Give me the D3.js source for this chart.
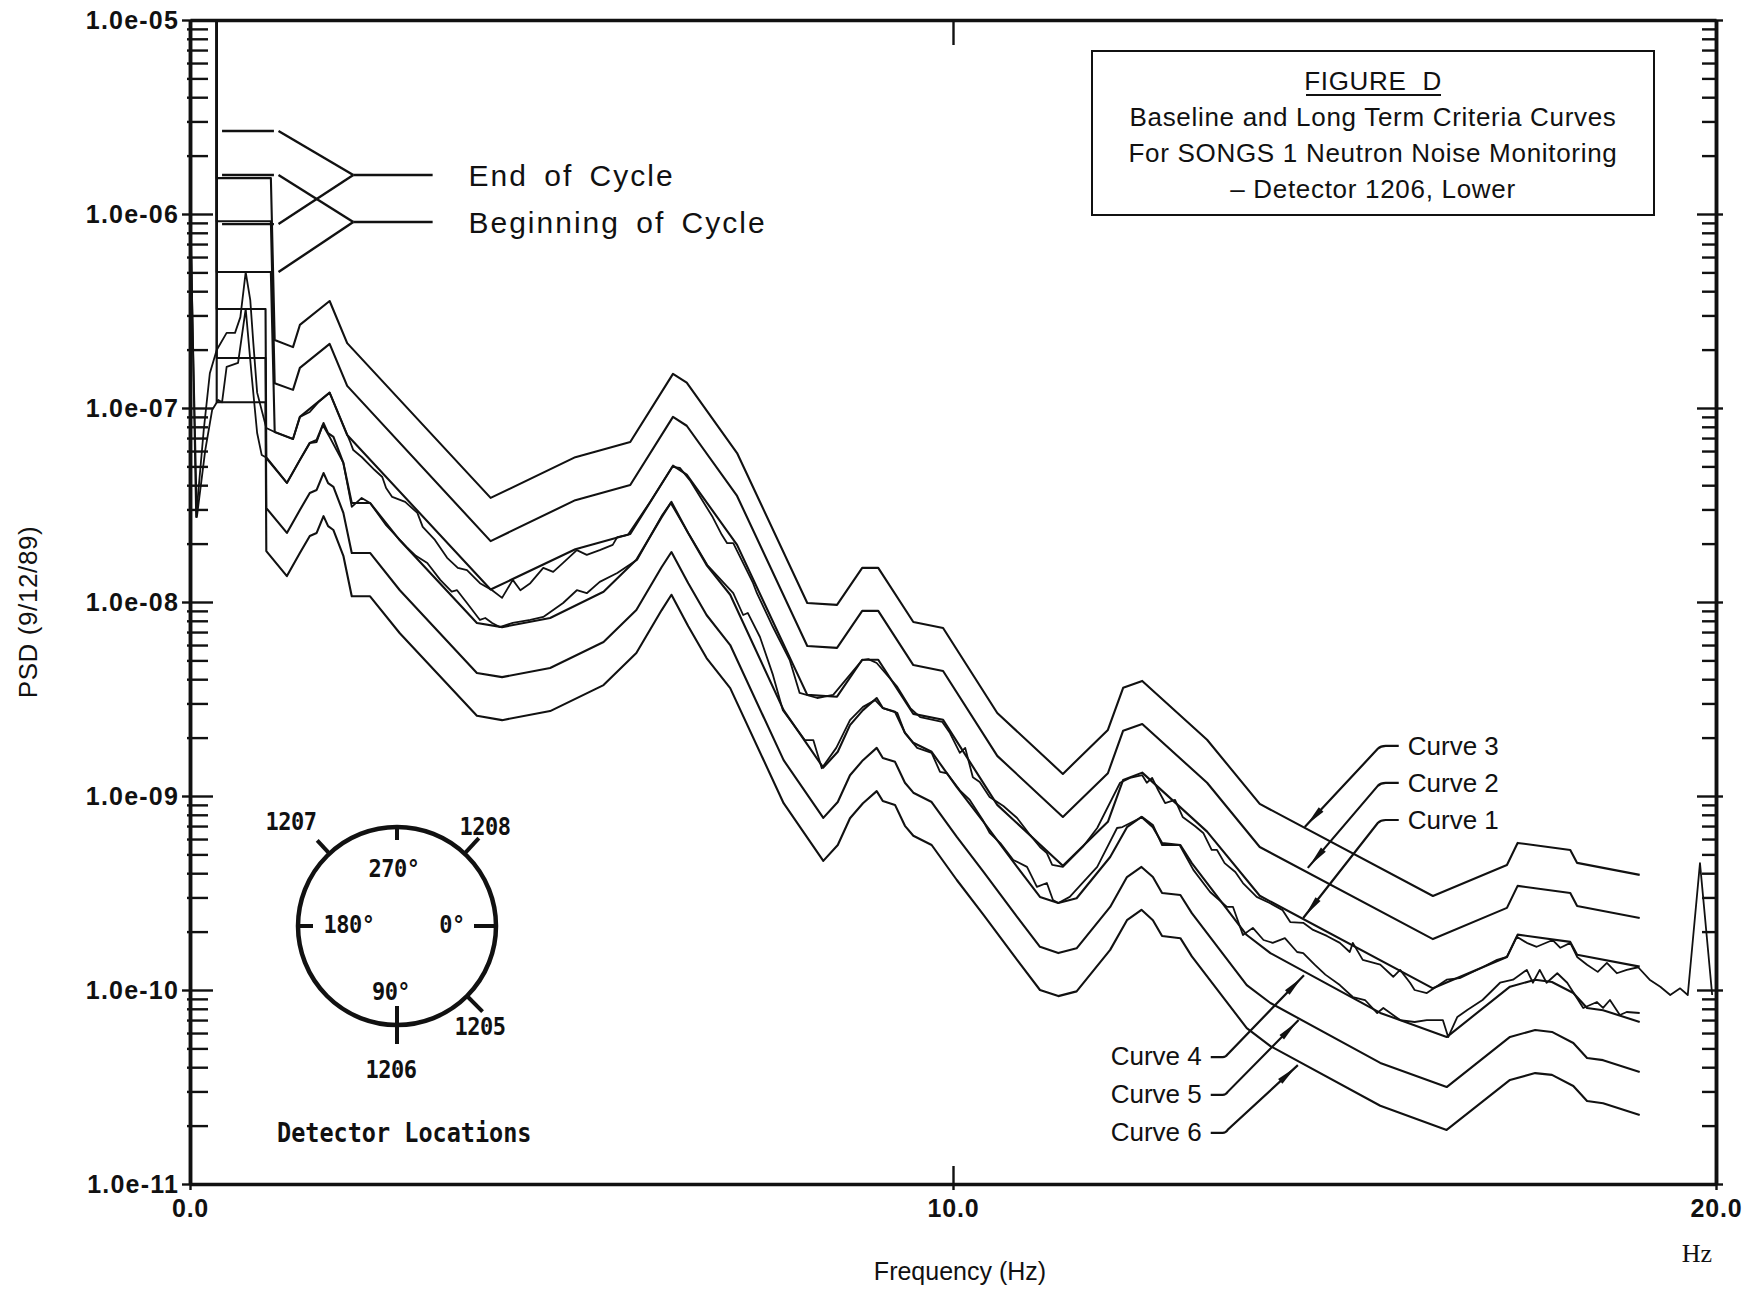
<!DOCTYPE html>
<html><head><meta charset="utf-8">
<script src="https://cdn.jsdelivr.net/npm/d3@7"></script>
<style>
html,body{margin:0;padding:0;background:#fff;}
svg{display:block;}
</style></head>
<body>
<svg id="chart" width="1750" height="1297"></svg>
<script>
// ---------------- DATA ----------------
// Criteria curves 1-3 (upper family) share frequency vertices (Hz); first value is off-scale (clipped at top)
const freqUpper = [0.35,0.35,1.06,1.11,1.35,1.44,1.83,2.06,3.94,5.05,5.77,6.33,6.51,7.17,8.09,8.48,8.81,9.02,9.48,9.87,10.58,11.44,12.03,12.23,12.48,13.33,14.02,16.29,17.26,17.40,18.09,18.18,19.00];
const curve3 = [1e-4,1.53e-6,1.53e-6,2.24e-7,2.06e-7,2.68e-7,3.56e-7,2.16e-7,3.44e-8,5.58e-8,6.68e-8,1.50e-7,1.35e-7,5.86e-8,9.89e-9,9.66e-9,1.50e-8,1.50e-8,7.89e-9,7.35e-9,2.68e-9,1.30e-9,2.19e-9,3.61e-9,3.92e-9,1.95e-9,9.10e-10,3.05e-10,4.41e-10,5.73e-10,5.27e-10,4.52e-10,3.92e-10];
const curve2 = [1e-4,9.18e-7,9.18e-7,1.34e-7,1.24e-7,1.61e-7,2.14e-7,1.30e-7,2.06e-8,3.35e-8,4.01e-8,9.00e-8,8.10e-8,3.52e-8,5.93e-9,5.80e-9,9.00e-9,9.00e-9,4.73e-9,4.41e-9,1.61e-9,7.80e-10,1.31e-9,2.17e-9,2.35e-9,1.17e-9,5.46e-10,1.83e-10,2.65e-10,3.44e-10,3.16e-10,2.71e-10,2.35e-10];
const curve1 = [1e-4,5.02e-7,5.02e-7,7.53e-8,6.92e-8,9.00e-8,1.20e-7,7.26e-8,1.16e-8,1.87e-8,2.24e-8,5.04e-8,4.54e-8,1.97e-8,3.32e-9,3.25e-9,5.04e-9,5.04e-9,2.65e-9,2.47e-9,9.00e-10,4.37e-10,7.36e-10,1.21e-9,1.32e-9,6.55e-10,3.06e-10,1.02e-10,1.48e-10,1.93e-10,1.77e-10,1.52e-10,1.32e-10];

// Criteria curves 4-6 (lower family)
const freqLower = [0.35,0.35,0.99,1.00,1.27,1.44,1.57,1.66,1.75,1.81,1.88,2.01,2.12,2.36,2.75,3.76,4.09,4.72,5.42,5.85,6.18,6.31,6.53,6.77,7.08,7.78,8.30,8.49,8.65,8.82,9.00,9.08,9.24,9.37,9.48,9.72,10.05,10.40,10.84,11.14,11.38,11.62,12.06,12.28,12.47,12.62,12.74,12.98,13.13,13.85,14.16,15.60,16.47,17.30,17.63,17.85,18.13,18.31,18.52,19.00];
const curve4 = [1e-4,3.24e-7,3.24e-7,5.52e-8,4.11e-8,5.39e-8,6.61e-8,6.84e-8,8.36e-8,7.42e-8,7.10e-8,5.21e-8,3.24e-8,3.24e-8,2.08e-8,7.80e-9,7.42e-9,8.27e-9,1.13e-8,1.65e-8,2.73e-8,3.28e-8,2.26e-8,1.55e-8,1.09e-8,2.77e-9,1.40e-9,1.69e-9,2.32e-9,2.77e-9,3.20e-9,2.84e-9,2.72e-9,2.12e-9,1.88e-9,1.69e-9,1.11e-9,7.35e-10,4.31e-10,3.02e-10,2.81e-10,2.97e-10,4.85e-10,6.91e-10,7.80e-10,6.91e-10,5.72e-10,5.59e-10,4.51e-10,1.92e-10,1.55e-10,7.62e-11,5.72e-11,1.04e-10,1.13e-10,1.10e-10,9.65e-11,8.07e-11,7.87e-11,6.84e-11];
const curve5 = [1e-4,1.81e-7,1.81e-7,3.05e-8,2.27e-8,2.98e-8,3.65e-8,3.78e-8,4.62e-8,4.10e-8,3.92e-8,2.88e-8,1.79e-8,1.79e-8,1.15e-8,4.31e-9,4.10e-9,4.57e-9,6.22e-9,9.10e-9,1.51e-8,1.81e-8,1.25e-8,8.57e-9,6.00e-9,1.53e-9,7.71e-10,9.31e-10,1.28e-9,1.53e-9,1.77e-9,1.57e-9,1.50e-9,1.17e-9,1.04e-9,9.31e-10,6.15e-10,4.06e-10,2.38e-10,1.67e-10,1.55e-10,1.64e-10,2.68e-10,3.82e-10,4.31e-10,3.82e-10,3.16e-10,3.09e-10,2.49e-10,1.06e-10,8.57e-11,4.21e-11,3.16e-11,5.73e-11,6.22e-11,6.08e-11,5.33e-11,4.46e-11,4.35e-11,3.78e-11];
const curve6 = [1e-4,1.07e-7,1.07e-7,1.83e-8,1.36e-8,1.79e-8,2.19e-8,2.27e-8,2.77e-8,2.46e-8,2.35e-8,1.73e-8,1.07e-8,1.07e-8,6.90e-9,2.59e-9,2.46e-9,2.74e-9,3.73e-9,5.46e-9,9.06e-9,1.09e-8,7.50e-9,5.14e-9,3.60e-9,9.18e-10,4.63e-10,5.59e-10,7.68e-10,9.18e-10,1.06e-9,9.42e-10,9.00e-10,7.02e-10,6.24e-10,5.59e-10,3.69e-10,2.44e-10,1.43e-10,1.00e-10,9.30e-11,9.84e-11,1.61e-10,2.29e-10,2.59e-10,2.29e-10,1.90e-10,1.85e-10,1.49e-10,6.36e-11,5.14e-11,2.53e-11,1.90e-11,3.44e-11,3.73e-11,3.65e-11,3.20e-11,2.68e-11,2.61e-11,2.27e-11];

// Measured PSD (9/12/89), trace near Curve 1
const measAFreq = [0.01,0.08,0.18,0.26,0.35,0.48,0.59,0.66,0.73,0.79,0.83,0.88,1.00,1.11,1.35,1.44,1.57,1.68,1.83,1.98,2.10,2.14,2.25,2.42,2.52,2.57,2.65,2.82,2.98,3.05,3.21,3.37,3.51,3.63,3.80,3.96,4.09,4.23,4.33,4.46,4.63,4.76,4.89,5.07,5.20,5.37,5.54,5.60,5.74,6.03,6.32,6.42,6.55,6.85,6.97,7.04,7.12,7.38,7.43,7.64,7.86,7.99,8.22,8.43,8.81,8.89,9.00,9.27,9.44,9.57,9.86,9.96,10.09,10.16,10.26,10.35,10.48,10.66,10.84,11.01,11.14,11.23,11.30,11.44,11.70,11.89,12.19,12.32,12.48,12.54,12.61,12.69,12.78,12.91,13.01,13.17,13.28,13.39,13.46,13.56,13.70,13.80,13.98,14.15,14.32,14.42,14.59,14.72,14.90,15.07,15.20,15.24,15.37,15.60,15.77,15.86,15.99,16.05,16.21,16.47,16.64,16.94,17.13,17.26,17.39,17.52,17.65,17.86,17.96,18.09,18.18,18.31,18.45,18.57,18.70,18.83,18.98,19.13,19.27,19.40,19.53,19.63,19.79,19.95];
const measAValues = [8.78e-7,2.74e-8,7.70e-8,1.51e-7,1.99e-7,2.44e-7,2.44e-7,2.94e-7,5.02e-7,3.60e-7,2.16e-7,1.20e-7,7.89e-8,7.52e-8,6.92e-8,8.99e-8,9.54e-8,1.07e-7,1.20e-7,8.67e-8,6.68e-8,6.07e-8,5.59e-8,4.79e-8,4.41e-8,3.87e-8,3.48e-8,3.28e-8,2.88e-8,2.44e-8,2.09e-8,1.69e-8,1.50e-8,1.46e-8,1.25e-8,1.15e-8,1.05e-8,1.30e-8,1.15e-8,1.25e-8,1.50e-8,1.43e-8,1.59e-8,1.85e-8,1.75e-8,1.85e-8,1.97e-8,2.16e-8,2.22e-8,3.28e-8,4.97e-8,4.91e-8,4.25e-8,2.74e-8,2.22e-8,2.01e-8,2.01e-8,1.25e-8,1.11e-8,7.43e-9,5.02e-9,3.40e-9,3.20e-9,3.32e-9,5.02e-9,5.08e-9,4.85e-9,3.65e-9,2.84e-9,2.55e-9,2.41e-9,2.11e-9,1.67e-9,1.77e-9,1.25e-9,1.18e-9,9.88e-10,8.88e-10,7.70e-10,6.30e-10,5.46e-10,5.08e-10,4.41e-10,4.31e-10,5.46e-10,6.84e-10,1.17e-9,1.24e-9,1.28e-9,1.17e-9,1.24e-9,1.07e-9,9.20e-10,9.54e-10,7.80e-10,7.00e-10,6.45e-10,5.27e-10,5.27e-10,4.51e-10,4.06e-10,3.56e-10,3.02e-10,2.81e-10,2.58e-10,2.24e-10,2.22e-10,2.04e-10,1.90e-10,1.75e-10,1.57e-10,1.75e-10,1.43e-10,1.35e-10,1.17e-10,1.27e-10,1.09e-10,1.00e-10,9.65e-11,1.13e-10,1.15e-10,1.31e-10,1.43e-10,1.48e-10,1.88e-10,1.75e-10,1.67e-10,1.81e-10,1.65e-10,1.75e-10,1.48e-10,1.35e-10,1.24e-10,1.38e-10,1.22e-10,1.27e-10,1.31e-10,1.13e-10,1.04e-10,9.42e-11,1.02e-10,9.42e-11,4.51e-10,9.42e-11];

// Measured PSD trace near Curve 4
const measBFreq = [0.01,0.09,0.20,0.29,0.37,0.42,0.48,0.63,0.73,0.81,0.88,0.94,1.01,1.27,1.44,1.57,1.66,1.74,1.83,2.01,2.12,2.25,2.36,2.57,2.75,2.84,2.96,3.11,3.28,3.43,3.50,3.63,3.80,3.87,3.96,4.06,4.23,4.46,4.63,4.89,5.07,5.20,5.37,5.60,5.86,6.19,6.30,6.53,6.78,7.12,7.25,7.31,7.47,7.64,7.77,8.06,8.17,8.28,8.47,8.65,8.82,8.98,9.08,9.27,9.37,9.53,9.72,9.83,9.92,10.09,10.22,10.39,10.48,10.62,10.79,10.97,11.10,11.23,11.31,11.38,11.53,11.89,12.15,12.22,12.48,12.62,12.74,12.97,13.15,13.37,13.59,13.67,13.80,13.93,14.07,14.19,14.35,14.51,14.59,14.74,14.88,15.07,15.24,15.40,15.56,15.64,15.86,16.05,16.21,16.42,16.49,16.61,16.74,16.94,17.17,17.34,17.52,17.60,17.69,17.78,17.92,18.05,18.26,18.44,18.52,18.61,18.74,18.83,19.00];
const measBValues = [7.35e-7,2.74e-8,6.07e-8,9.76e-8,1.10e-7,1.07e-7,1.63e-7,1.71e-7,3.24e-7,1.44e-7,7.43e-8,5.72e-8,5.52e-8,4.11e-8,5.40e-8,6.60e-8,6.68e-8,8.17e-8,7.09e-8,5.21e-8,3.09e-8,3.44e-8,3.24e-8,2.49e-8,2.09e-8,1.92e-8,1.73e-8,1.59e-8,1.30e-8,1.13e-8,1.15e-8,9.88e-9,8.08e-9,8.27e-9,7.80e-9,7.43e-9,7.80e-9,8.08e-9,8.37e-9,9.88e-9,1.15e-8,1.11e-8,1.27e-8,1.41e-8,1.65e-8,2.81e-8,3.24e-8,2.27e-8,1.55e-8,1.11e-8,8.57e-9,8.78e-9,6.60e-9,4.21e-9,2.77e-9,1.94e-9,1.94e-9,1.39e-9,1.77e-9,2.46e-9,2.88e-9,3.12e-9,2.84e-9,2.68e-9,2.11e-9,1.77e-9,1.67e-9,1.33e-9,1.31e-9,1.07e-9,9.54e-10,7.52e-10,6.45e-10,5.72e-10,4.68e-10,4.31e-10,3.40e-10,3.56e-10,2.91e-10,2.81e-10,3.02e-10,4.31e-10,6.84e-10,6.92e-10,7.80e-10,7.09e-10,5.59e-10,5.59e-10,4.16e-10,3.20e-10,2.68e-10,2.68e-10,1.92e-10,2.09e-10,1.81e-10,1.75e-10,1.85e-10,1.57e-10,1.55e-10,1.35e-10,1.20e-10,1.06e-10,9.20e-11,8.88e-11,7.61e-11,8.08e-11,7.00e-11,6.84e-11,7.00e-11,7.00e-11,5.72e-11,7.26e-11,7.89e-11,8.88e-11,1.09e-10,1.13e-10,1.27e-10,1.09e-10,1.27e-10,1.09e-10,1.22e-10,1.09e-10,8.08e-11,8.67e-11,8.08e-11,8.88e-11,7.43e-11,7.70e-11,7.61e-11];

// Cycle legend levels (low-frequency criteria levels) and their targets
const cycleStubLevels = [2.68e-6,1.59e-6,8.87e-7,5.02e-7];
const cycleTargetLevels = [1.59e-6,9.10e-7];      // End of Cycle, Beginning of Cycle
const cycleStubTarget = [0,1,0,1];
const cycleLabels = ["End of Cycle","Beginning of Cycle"];

// Axis ticks
const yTickValues = [1e-5,1e-6,1e-7,1e-8,1e-9,1e-10,1e-11];
const yTickLabels = ["1.0e-05","1.0e-06","1.0e-07","1.0e-08","1.0e-09","1.0e-10","1.0e-11"];
const xTickValues = [0,10,20];
const xTickLabels = ["0.0","10.0","20.0"];

// Curve call-outs
const curveNamesUpper = ["Curve 3","Curve 2","Curve 1"];
const curveNamesLower = ["Curve 4","Curve 5","Curve 6"];

const titleLines = ["FIGURE  D","Baseline and Long Term Criteria Curves","For SONGS 1 Neutron Noise Monitoring","\u2013 Detector 1206, Lower"];

// ---------------- DRAWING ----------------
const W = 1750, H = 1297;
const plot = {left:190, right:1716, top:20, bottom:1184};
const svg = d3.select('#chart');
svg.append('rect').attr('width',W).attr('height',H).attr('fill','#fff');

const x = d3.scaleLinear().domain([0,20]).range([plot.left, plot.right]);
const y = d3.scaleLog().domain([1e-11,1e-5]).range([plot.bottom, plot.top]);

const SANS = '"Liberation Sans", Arial, Helvetica, sans-serif';
const INK = '#111';

svg.append('defs').append('clipPath').attr('id','clip')
  .append('rect').attr('x',plot.left).attr('y',plot.top)
  .attr('width',plot.right-plot.left).attr('height',plot.bottom-plot.top);

const line = d3.line().x(d=>x(d[0])).y(d=>y(d[1]));
const zip = (fs,vs)=>fs.map((f,i)=>[f,vs[i]]);

const curvesG = svg.append('g').attr('clip-path','url(#clip)');
[[freqUpper,curve3],[freqUpper,curve2],[freqUpper,curve1],
 [freqLower,curve4],[freqLower,curve5],[freqLower,curve6]].forEach(([fs,vs])=>{
  curvesG.append('path').attr('d',line(zip(fs,vs)))
    .attr('fill','none').attr('stroke',INK).attr('stroke-width',2.1)
    .attr('stroke-linejoin','round');
});
[[measAFreq,measAValues],[measBFreq,measBValues]].forEach(([fs,vs])=>{
  curvesG.append('path').attr('d',line(zip(fs,vs)))
    .attr('fill','none').attr('stroke',INK).attr('stroke-width',1.8)
    .attr('stroke-linejoin','round');
});

// ---- axes ----
const yMinor = [];
for (let e=-11; e<-5; e++) for (let m=2; m<=9; m++) yMinor.push(m*Math.pow(10,e));

function styleAxis(g){
  g.attr('font-family',SANS).attr('font-size',25).attr('font-weight','bold');
  g.selectAll('path.domain').attr('stroke',INK).attr('stroke-width',3.5);
  g.selectAll('.tick line').attr('stroke',INK).attr('stroke-width',2.4);
  g.selectAll('.tick text').attr('fill',INK);
}

// left minor
const glm = svg.append('g').attr('transform',`translate(${plot.left},0)`)
  .call(d3.axisLeft(y).tickValues(yMinor).tickFormat('').tickSizeInner(-18).tickSizeOuter(0));
styleAxis(glm); glm.selectAll('.tick line').attr('x1',-3);
// left major
const glM = svg.append('g').attr('transform',`translate(${plot.left},0)`)
  .call(d3.axisLeft(y).tickValues(yTickValues).tickFormat((d,i)=>yTickLabels[i]).tickSizeInner(-23).tickSizeOuter(0).tickPadding(11));
styleAxis(glM); glM.selectAll('.tick line').attr('x1',-8);
glM.selectAll('.tick text').attr('letter-spacing',1.2);

// right minor + major
const grm = svg.append('g').attr('transform',`translate(${plot.right},0)`)
  .call(d3.axisRight(y).tickValues(yMinor).tickFormat('').tickSizeInner(-14).tickSizeOuter(0));
styleAxis(grm);
const grM = svg.append('g').attr('transform',`translate(${plot.right},0)`)
  .call(d3.axisRight(y).tickValues(yTickValues).tickFormat('').tickSizeInner(-19).tickSizeOuter(0));
styleAxis(grM); grM.selectAll('.tick line').attr('x1',7);

// bottom
const gb = svg.append('g').attr('transform',`translate(0,${plot.bottom})`)
  .call(d3.axisBottom(x).tickValues(xTickValues).tickFormat((d,i)=>xTickLabels[i]).tickSizeInner(6).tickSizeOuter(0).tickPadding(9));
styleAxis(gb); gb.selectAll('.tick line').attr('y1',-18);
gb.selectAll('.tick text').attr('letter-spacing',0.8);
// top
const gt = svg.append('g').attr('transform',`translate(0,${plot.top})`)
  .call(d3.axisTop(x).tickValues([10]).tickFormat('').tickSizeInner(-25).tickSizeOuter(0));
styleAxis(gt);

// axis titles
svg.append('text').attr('x',960).attr('y',1280).attr('text-anchor','middle')
  .attr('font-family',SANS).attr('font-size',25).attr('fill',INK).text('Frequency (Hz)');
svg.append('text').attr('transform','translate(37,612) rotate(-90)').attr('text-anchor','middle')
  .attr('font-family',SANS).attr('font-size',26).attr('letter-spacing',0.6).attr('fill',INK).text('PSD (9/12/89)');
svg.append('text').attr('x',1697).attr('y',1262).attr('text-anchor','middle')
  .attr('font-family','"Liberation Serif", "Times New Roman", serif').attr('font-size',26).attr('fill',INK).text('Hz');

// ---- cycle legend ----
const lg = svg.append('g').attr('stroke',INK).attr('stroke-width',2.4).attr('fill','none');
const stubStart = 0.42, stubEnd = 1.10, diagStart = 1.16, meet = 2.14, rightEnd = 3.18;
cycleStubLevels.forEach((lv,i)=>{
  if (i < 3) lg.append('line').attr('x1',x(stubStart)).attr('x2',x(stubEnd)).attr('y1',y(lv)).attr('y2',y(lv));
  lg.append('line').attr('x1',x(diagStart)).attr('y1',y(lv))
    .attr('x2',x(meet)).attr('y2',y(cycleTargetLevels[cycleStubTarget[i]]));
});
cycleTargetLevels.forEach((lv,i)=>{
  lg.append('line').attr('x1',x(meet)).attr('x2',x(rightEnd)).attr('y1',y(lv)).attr('y2',y(lv));
  svg.append('text').attr('x',x(3.65)).attr('y',y(lv)+11)
    .attr('font-family',SANS).attr('font-size',30).attr('letter-spacing',2).attr('word-spacing',6)
    .attr('fill',INK).text(cycleLabels[i]);
});

// ---- title box ----
svg.append('rect').attr('x',1092).attr('y',51).attr('width',562).attr('height',164)
  .attr('fill','none').attr('stroke',INK).attr('stroke-width',2);
const titleY = [90,126,162,198];
titleLines.forEach((t,i)=>{
  svg.append('text').attr('x',1373).attr('y',titleY[i]).attr('text-anchor','middle')
    .attr('font-family',SANS).attr('font-size',26).attr('letter-spacing',0.7)
    .attr('fill',INK).attr('xml:space','preserve').style('white-space','pre').text(t);
});
svg.append('line').attr('x1',1306).attr('x2',1441).attr('y1',95).attr('y2',95)
  .attr('stroke',INK).attr('stroke-width',2);

// ---- curve call-outs ----
const upperTips = [[14.61,6.92e-10],[14.65,4.26e-10],[14.59,2.35e-10]];
const upperText = [[15.96,1.63e-9],[15.96,1.05e-9],[15.96,6.76e-10]];
const lowerTips = [[14.60,1.19e-10],[14.53,7.00e-11],[14.52,4.10e-11]];
const lowerText = [[13.26,4.10e-11],[13.26,2.62e-11],[13.26,1.67e-11]];
const cg = svg.append('g');
function arrowHead(px,py,qx,qy){
  const dx=qx-px, dy=qy-py, L=Math.hypot(dx,dy), ux=dx/L, uy=dy/L;
  const a0=[px+ux*3,py+uy*3], b=[px+ux*24,py+uy*24];
  const nx=-uy*3.2, ny=ux*3.2;
  cg.append('path').attr('d',`M${a0[0]},${a0[1]}L${b[0]+nx},${b[1]+ny}L${b[0]-nx},${b[1]-ny}Z`).attr('fill',INK);
}
curveNamesUpper.forEach((nm,i)=>{
  const px=x(upperTips[i][0]), py=y(upperTips[i][1]);
  const tx=x(upperText[i][0]), ty=y(upperText[i][1]);
  const ly=ty-9;
  cg.append('path').attr('d',`M${px},${py}L${tx-30},${ly+3}Q${tx-27},${ly} ${tx-22},${ly}H${tx-9}`)
    .attr('fill','none').attr('stroke',INK).attr('stroke-width',2.2);
  arrowHead(px,py,tx-30,ly+3);
  cg.append('text').attr('x',tx).attr('y',ty).attr('font-family',SANS).attr('font-size',26)
    .attr('fill',INK).text(nm);
});
curveNamesLower.forEach((nm,i)=>{
  const px=x(lowerTips[i][0]), py=y(lowerTips[i][1]);
  const tx=x(lowerText[i][0]), ty=y(lowerText[i][1]);
  const ly=ty-8;
  cg.append('path').attr('d',`M${tx+9},${ly}H${tx+21}Q${tx+24},${ly} ${tx+26},${ly-3}L${px},${py}`)
    .attr('fill','none').attr('stroke',INK).attr('stroke-width',2.2);
  arrowHead(px,py,tx+26,ly-3);
  cg.append('text').attr('x',tx).attr('y',ty).attr('text-anchor','end').attr('font-family',SANS)
    .attr('font-size',26).attr('fill',INK).text(nm);
});

// ---- detector location inset ----
const MONO = '"DejaVu Sans Mono", "Liberation Mono", monospace';
const inset = svg.append('g').attr('transform','translate(397,926)');
const R = 99;
inset.append('circle').attr('r',R).attr('fill','none').attr('stroke',INK).attr('stroke-width',4.5);
const polar=(ang,r)=>[r*Math.cos(ang*Math.PI/180), r*Math.sin(ang*Math.PI/180)];
// [angle (screen, deg), inner radius, outer radius]
const insetTicks = [[-90,86,R],[0,77,R],[180,84,R],[90,80,118],[-133,R,117],[-47,R,120],[45,R,121]];
insetTicks.forEach(([a,r0,r1])=>{
  const p0=polar(a,r0), p1=polar(a,r1);
  inset.append('line').attr('x1',p0[0]).attr('y1',p0[1]).attr('x2',p1[0]).attr('y2',p1[1])
    .attr('stroke',INK).attr('stroke-width',4);
});
const insetLabels = [["1207",-106,-96],["1208",88,-91],["270\u00B0",-3,-49],["180\u00B0",-48,7],["0\u00B0",55,7],["90\u00B0",-6,74],["1205",83,109],["1206",-6,152]];
insetLabels.forEach(([t,dx,dy])=>{
  inset.append('text').attr('transform',`translate(${dx},${dy}) scale(1,1.12)`).attr('text-anchor','middle')
    .attr('font-family',MONO).attr('font-weight','bold').attr('font-size',22).attr('letter-spacing',-0.5).attr('fill',INK).text(t);
});
inset.append('text').attr('transform','translate(-120,216) scale(1,1.1)')
  .attr('font-family',MONO).attr('font-weight','bold').attr('font-size',23.5).attr('fill',INK).text('Detector Locations');
</script>
</body></html>
